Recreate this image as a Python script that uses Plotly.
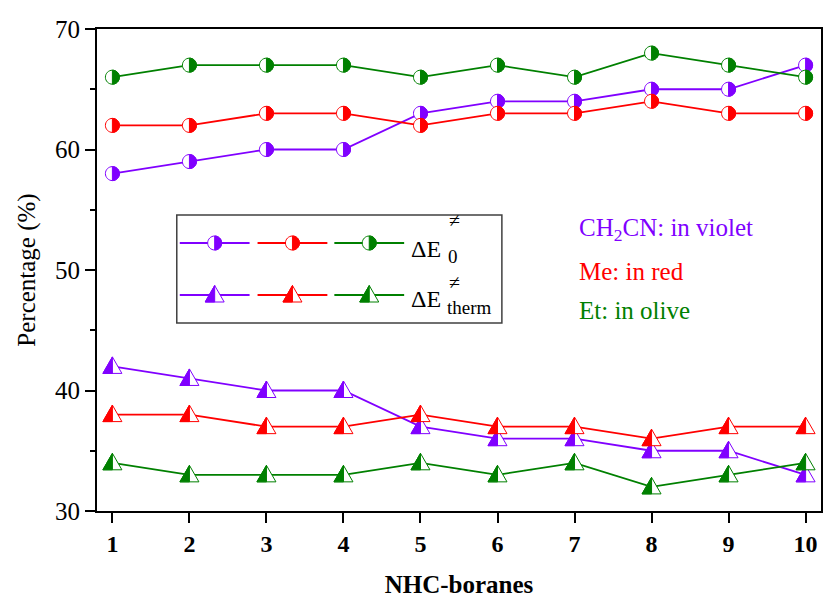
import plotly.graph_objects as go

x_vals = [1, 2, 3, 4, 5, 6, 7, 8, 9, 10]
ch2cn_e0 = [58, 59, 60, 60, 63, 64, 64, 65, 65, 67]
me_e0 = [62, 62, 63, 63, 62, 63, 63, 64, 63, 63]
et_e0 = [66, 67, 67, 67, 66, 67, 66, 68, 67, 66]
ch2cn_therm = [42, 41, 40, 40, 37, 36, 36, 35, 35, 33]
me_therm = [38, 38, 37, 37, 38, 37, 37, 36, 37, 37]
et_therm = [34, 33, 33, 33, 34, 33, 34, 32, 33, 34]
y_ticks = [30, 40, 50, 60, 70]

VIOLET = "#8000FF"
RED = "#FF0000"
GREEN = "#008000"
FONT = "Liberation Serif"

W, H = 825, 604
L, R, T, B = 97, 2, 29, 93
PW, PH = W - L - R, H - T - B

def pxx(px):
    return (px - L) / PW

def pxy(py):
    return (H - B - py) / PH

K = 0.5523
CR = 7.0
half_circle = (f"M 0,{CR} C {K*CR},{CR} {CR},{K*CR} {CR},0 "
               f"C {CR},{-K*CR} {K*CR},{-CR} 0,{-CR} Z")
full_circle = (f"M 0,{CR} C {K*CR},{CR} {CR},{K*CR} {CR},0 "
               f"C {CR},{-K*CR} {K*CR},{-CR} 0,{-CR} "
               f"C {-K*CR},{-CR} {-CR},{-K*CR} {-CR},0 "
               f"C {-CR},{K*CR} {-K*CR},{CR} 0,{CR} Z")
TW, TTOP, TBOT = 9.5, 9.5, -7.0
full_tri = f"M 0,{TTOP} L {TW},{TBOT} L {-TW},{TBOT} Z"
half_tri = f"M 0,{TTOP} L {-TW},{TBOT} L 0,{TBOT} Z"

fig = go.Figure()
shapes = []

def marker_shapes(xa, ya, color, kind, xref="x", yref="y"):
    full, half = (full_circle, half_circle) if kind == "circle" else (full_tri, half_tri)
    return [
        dict(type="path", path=full, xsizemode="pixel", ysizemode="pixel",
             xanchor=xa, yanchor=ya, xref=xref, yref=yref,
             fillcolor="white", line=dict(color=color, width=1), layer="above"),
        dict(type="path", path=half, xsizemode="pixel", ysizemode="pixel",
             xanchor=xa, yanchor=ya, xref=xref, yref=yref,
             fillcolor=color, line=dict(color=color, width=1), layer="above"),
    ]

series = [
    ("CH2CN ΔE0", ch2cn_e0, VIOLET, "circle"),
    ("Me ΔE0", me_e0, RED, "circle"),
    ("Et ΔE0", et_e0, GREEN, "circle"),
    ("CH2CN ΔEtherm", ch2cn_therm, VIOLET, "tri"),
    ("Me ΔEtherm", me_therm, RED, "tri"),
    ("Et ΔEtherm", et_therm, GREEN, "tri"),
]

for name, ys, color, kind in series:
    fig.add_trace(go.Scatter(
        x=x_vals, y=ys, mode="lines", name=name,
        line=dict(color=color, width=1.8), showlegend=False,
    ))
    for xv, yv in zip(x_vals, ys):
        shapes += marker_shapes(xv, yv, color, kind)

# Legend box (drawn manually)
shapes.append(dict(type="rect", xref="paper", yref="paper",
                   x0=pxx(177), x1=pxx(503), y0=pxy(323), y1=pxy(215),
                   line=dict(color="#404040", width=1.5), fillcolor="white", layer="above"))
leg_cols = [(180, 250, VIOLET), (258, 328, RED), (335, 405, GREEN)]
for row_y, kind in [(243, "circle"), (295, "tri")]:
    for xa, xb, color in leg_cols:
        shapes.append(dict(type="line", xref="paper", yref="paper",
                           x0=pxx(xa), x1=pxx(xb), y0=pxy(row_y), y1=pxy(row_y),
                           line=dict(color=color, width=1.8), layer="above"))
        shapes += marker_shapes(pxx((xa + xb) / 2), pxy(row_y), color, kind,
                                xref="paper", yref="paper")

annotations = []
def ann(text, px, py, size, color="black", xanchor="left", yanchor="middle"):
    annotations.append(dict(text=text, x=pxx(px), y=pxy(py), xref="paper", yref="paper",
                            showarrow=False, xanchor=xanchor, yanchor=yanchor,
                            font=dict(family=FONT, size=size, color=color)))

ann("ΔE", 410, 249, 24)
ann("≠", 448, 233, 20, yanchor="bottom")
ann("0", 447, 244, 19, yanchor="top")
ann("ΔE", 410, 299, 24)
ann("≠", 448, 295, 20, yanchor="bottom")
ann("therm", 446, 295, 19, yanchor="top")

ann("CH<sub>2</sub>CN: in violet", 578, 230, 25, VIOLET)
ann("Me: in red", 578, 271, 25, RED)
ann("Et: in olive", 578, 311, 25, GREEN)

fig.update_layout(
    width=W, height=H,
    margin=dict(l=L, r=R, t=T, b=B),
    plot_bgcolor="white", paper_bgcolor="white",
    shapes=shapes, annotations=annotations,
    showlegend=False,
    xaxis=dict(
        range=[0.8, 10.2], tickvals=x_vals, ticktext=[str(v) for v in x_vals],
        showline=True, mirror=True, linecolor="black", linewidth=1.8,
        ticks="outside", ticklen=10, tickwidth=1.8, tickcolor="black",
        showgrid=False, zeroline=False,
        tickfont=dict(family=FONT, size=24, color="black", weight="bold"),
        title=dict(text="NHC-boranes", standoff=20,
                   font=dict(family=FONT, size=25, color="black", weight="bold")),
    ),
    yaxis=dict(
        range=[30, 70], tickvals=y_ticks,
        showline=True, mirror=True, linecolor="black", linewidth=1.8,
        ticks="outside", ticklen=10, tickwidth=1.8, tickcolor="black",
        minor=dict(dtick=5, ticklen=5, tickwidth=1.8, tickcolor="black", ticks="outside", showgrid=False),
        showgrid=False, zeroline=False,
        tickfont=dict(family=FONT, size=25, color="black"),
        title=dict(text="Percentage (%)", standoff=12,
                   font=dict(family=FONT, size=25, color="black")),
    ),
)

fig.write_html("out.html", config={"displayModeBar": False},
               post_script="document.body.style.margin='0';document.body.style.overflow='hidden';")
